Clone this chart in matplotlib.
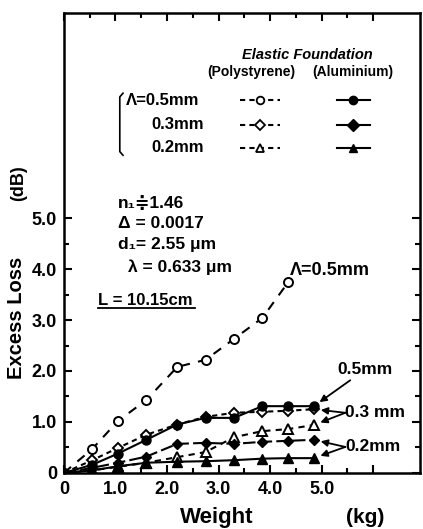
import matplotlib
matplotlib.use("Agg")
import matplotlib.pyplot as plt
from matplotlib.lines import Line2D

plt.rcParams['font.family'] = ['Liberation Sans', 'DejaVu Sans']
plt.rcParams['font.weight'] = 'bold'

# weight steps (kg) and excess loss (dB)
weight = [0, 0.55, 1.05, 1.6, 2.2, 2.75, 3.3, 3.85, 4.35, 4.85]
poly_05 = [0, 0.47, 1.02, 1.43, 2.08, 2.22, 2.63, 3.04, 3.74]
poly_03 = [0, 0.25, 0.49, 0.75, 0.95, 1.10, 1.18, 1.20, 1.22, 1.25]
poly_02 = [0, 0.05, 0.12, 0.20, 0.31, 0.41, 0.70, 0.82, 0.86, 0.94]
alum_05 = [0, 0.16, 0.38, 0.65, 0.95, 1.08, 1.08, 1.31, 1.31, 1.31]
alum_03 = [0, 0.10, 0.20, 0.32, 0.57, 0.59, 0.57, 0.61, 0.63, 0.65]
alum_02 = [0, 0.05, 0.13, 0.20, 0.22, 0.23, 0.25, 0.28, 0.29, 0.29]

x_ticks = [0, 1, 2, 3, 4, 5, 6]
x_labels = ['0', '1.0', '2.0', '3.0', '4.0', '5.0', '']
y_ticks = [0, 1, 2, 3, 4, 5]
y_labels = ['0', '1.0', '2.0', '3.0', '4.0', '5.0']
row_labels = ['\u039b=0.5mm', '0.3mm', '0.2mm']

fig = plt.figure(figsize=(4.23, 5.29), dpi=100)
ax = fig.add_axes([0.151, 0.106, 0.842, 0.869])

ms = 6.5
open_kw = dict(color='black', mfc='white', mec='black', mew=1.4, ms=ms, lw=1.5)
fill_kw = dict(color='black', mfc='black', mec='black', ms=ms, lw=1.5)

ax.plot(weight[:len(poly_05)], poly_05, marker='o', dashes=(4.5, 4), **open_kw)
ax.plot(weight, poly_03, marker='D', dashes=(2.5, 2), **{**open_kw, 'ms': 5.5})
ax.plot(weight, poly_02, marker='^', dashes=(3, 2.5), **open_kw)
ax.plot(weight, alum_05, marker='o', ls='-', **fill_kw)
ax.plot(weight, alum_03, marker='D', dashes=(6, 2), **{**fill_kw, 'ms': 5.5})
ax.plot(weight, alum_02, marker='^', ls='-', **fill_kw)

ax.set_xlim(0, 6.91)
ax.set_ylim(0, 9.02)
ax.set_xticks(x_ticks)
ax.set_xticklabels(x_labels)
ax.set_xticks([v + 0.5 for v in x_ticks[:-1]], minor=True)
ax.set_yticks(y_ticks)
ax.set_yticklabels(y_labels)
ax.set_yticks([v + 0.5 for v in y_ticks[:-1]], minor=True)
ax.tick_params(which='both', direction='in', top=True, right=True, width=1.5,
               labelsize=13)
ax.tick_params(which='major', length=6)
ax.tick_params(axis='x', which='major', pad=6)
ax.tick_params(axis='y', which='major', pad=5)
ax.tick_params(which='minor', length=3.5)
for s in ax.spines.values():
    s.set_linewidth(1.8)

# axis titles
ax.text(-0.133, 0.337, 'Excess Loss', transform=ax.transAxes, rotation=90,
        ha='center', va='center', fontsize=14.5)
ax.text(-0.127, 0.63, '(dB)', transform=ax.transAxes, rotation=90,
        ha='center', va='center', fontsize=13)
ax.text(0.43, -0.096, 'Weight', transform=ax.transAxes, ha='center',
        va='center', fontsize=16)
ax.text(0.846, -0.096, '(kg)', transform=ax.transAxes, ha='center',
        va='center', fontsize=15)

# legend block
ax.text(0.683, 0.909, 'Elastic Foundation', transform=ax.transAxes,
        ha='center', va='center', fontsize=10.5, style='italic')
ax.text(0.525, 0.872, '(Polystyrene)', transform=ax.transAxes,
        ha='center', va='center', fontsize=10)
ax.text(0.81, 0.872, '(Aluminium)', transform=ax.transAxes,
        ha='center', va='center', fontsize=10)
row_y = [0.811, 0.757, 0.707]
row_x = [0.174, 0.247, 0.247]
mk = ['o', 'D', '^']
for i in range(3):
    ax.text(row_x[i], row_y[i], row_labels[i], transform=ax.transAxes,
            ha='left', va='center', fontsize=12)
    ax.add_line(Line2D([0.494, 0.607], [row_y[i]] * 2, transform=ax.transAxes,
                       dashes=(2.5, 2), color='black', lw=1.5))
    ax.add_line(Line2D([0.551], [row_y[i]], transform=ax.transAxes, marker=mk[i],
                       ls='none', mfc='white', mec='black', mew=1.3, ms=5.5))
    ax.add_line(Line2D([0.767, 0.86], [row_y[i]] * 2, transform=ax.transAxes,
                       color='black', lw=1.5))
    ax.add_line(Line2D([0.812], [row_y[i]], transform=ax.transAxes, marker=mk[i],
                       ls='none', color='black', ms=6))
# bracket
ax.add_line(Line2D([0.166, 0.157, 0.157, 0.166], [0.826, 0.818, 0.699, 0.691],
                   transform=ax.transAxes, color='black', lw=1.2))

# parameters
params = [('n\u2081\u22511.46', 0.152, 0.587), ('\u0394 = 0.0017', 0.152, 0.543),
          ('d\u2081= 2.55 \u03bcm', 0.152, 0.496), ('\u03bb = 0.633 \u03bcm', 0.18, 0.448)]
for t, px, py in params:
    ax.text(px, py, t, transform=ax.transAxes, ha='left', va='center', fontsize=12.5)
ax.text(0.096, 0.376, 'L = 10.15cm', transform=ax.transAxes, ha='left',
        va='center', fontsize=12)
ax.add_line(Line2D([0.096, 0.368], [0.358, 0.358], transform=ax.transAxes,
                   color='black', lw=1.3))

# curve labels
ax.text(4.39, 3.98, '\u039b=0.5mm', ha='left', va='center', fontsize=13)
arrow = dict(arrowstyle='-|>', color='black', lw=1.3, shrinkA=0, shrinkB=5,
             mutation_scale=10)
ax.annotate('0.5mm', xy=(weight[-1], alum_05[-1]), xytext=(5.3, 2.02),
            ha='left', va='center', fontsize=12.5, arrowprops=arrow)
for lab, ys, ty in [('0.3 mm', (poly_03[-1], poly_02[-1]), 1.18),
                    ('0.2mm', (alum_03[-1], alum_02[-1]), 0.51)]:
    for yv in ys:
        ax.annotate('', xy=(weight[-1], yv), xytext=(5.46, ty), arrowprops=arrow)
    ax.text(5.46, ty, lab, ha='left', va='center', fontsize=12.5)

fig.savefig('out.png', dpi=100)
